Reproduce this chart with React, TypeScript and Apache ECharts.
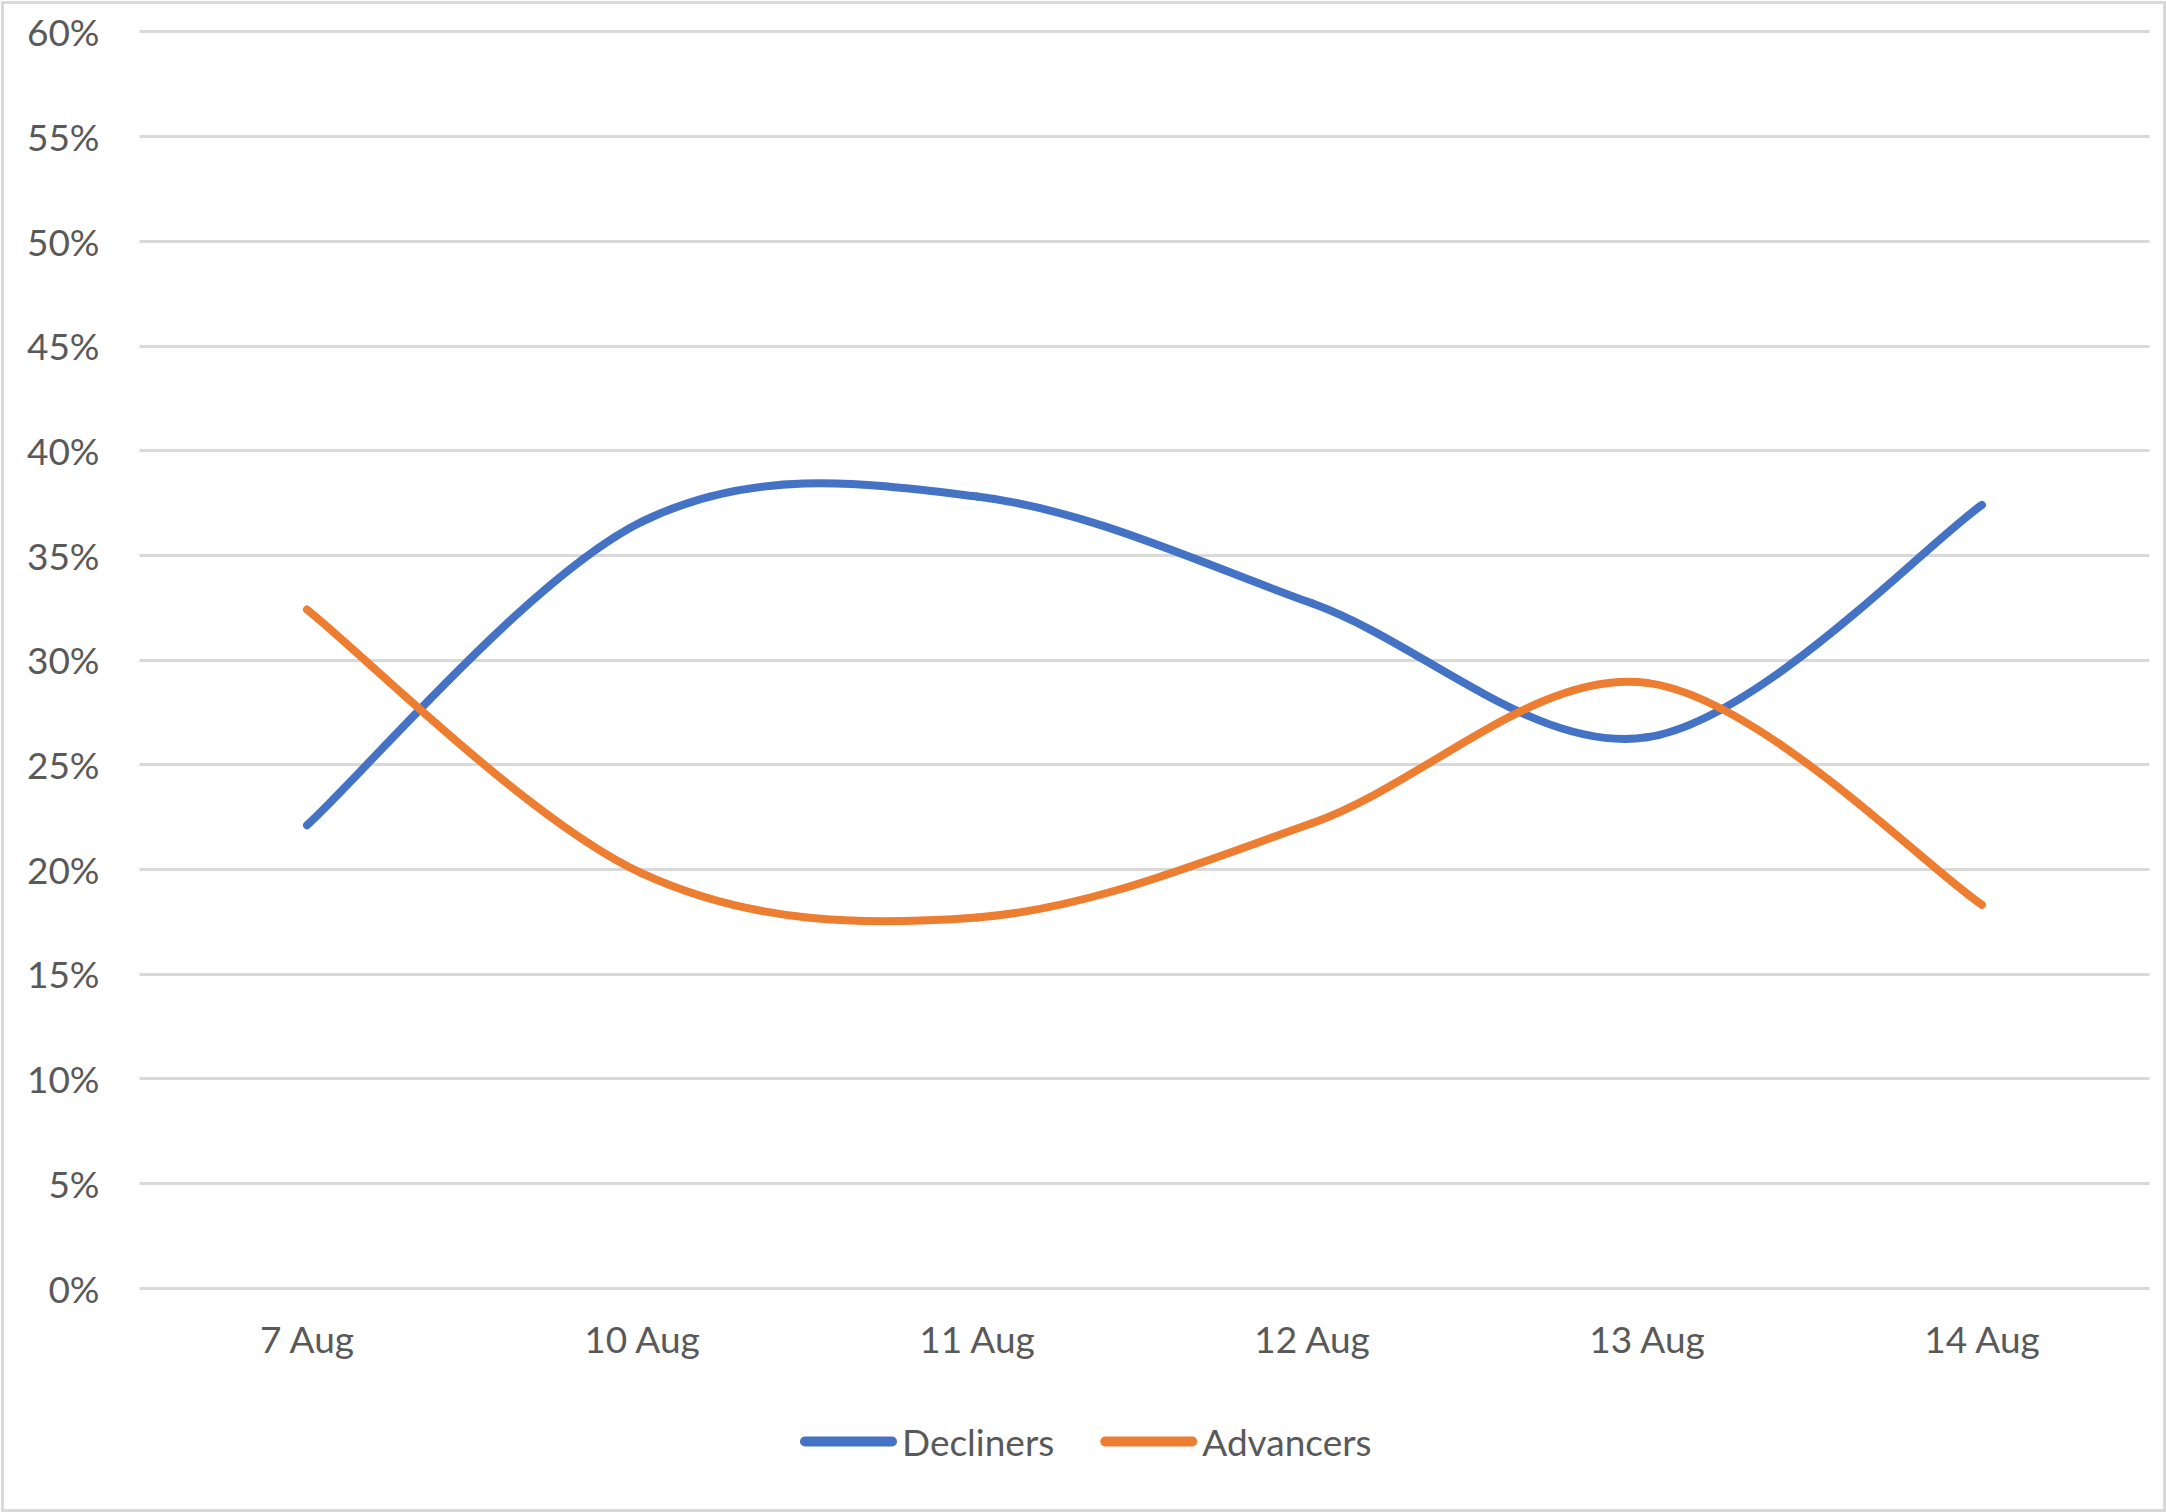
import React, { useEffect, useRef } from "react";
import * as echarts from "echarts";

const categories = ["7 Aug", "10 Aug", "11 Aug", "12 Aug", "13 Aug", "14 Aug"];
const decliners = [22.1, 36.6, 37.8, 32.7, 26.3, 37.4];
const advancers = [32.4, 19.8, 17.7, 22.2, 28.9, 18.3];
const seriesNames = ["Decliners", "Advancers"];
const seriesColors = ["#4472C4", "#ED7D31"];
const yMin = 0;
const yMax = 60;
const yStep = 5;

const FONT = "Lato, 'Noto Sans', sans-serif";
const TEXT = "#595959";
const GRID = "#D9D9D9";

function smoothSeries(name: string, values: number[], color: string) {
  const n = values.length;
  return {
    name,
    type: "custom",
    data: values.map((v, i) => [i, v]),
    encode: { x: 0, y: 1 },
    itemStyle: { color },
    renderItem: (params: any, api: any) => {
      const i = params.dataIndex;
      if (i >= n - 1) return null;
      const pt = (k: number) => {
        const kk = Math.max(0, Math.min(n - 1, k));
        return api.coord([kk, values[kk]]);
      };
      const p0 = pt(i - 1);
      const p1 = pt(i);
      const p2 = pt(i + 1);
      const p3 = pt(i + 2);
      const cp1x = p1[0] + (p2[0] - p0[0]) / 6;
      const cp1y = p1[1] + (p2[1] - p0[1]) / 6;
      const cp2x = p2[0] - (p3[0] - p1[0]) / 6;
      const cp2y = p2[1] - (p3[1] - p1[1]) / 6;
      return {
        type: "bezierCurve",
        shape: {
          x1: p1[0],
          y1: p1[1],
          x2: p2[0],
          y2: p2[1],
          cpx1: cp1x,
          cpy1: cp1y,
          cpx2: cp2x,
          cpy2: cp2y,
        },
        style: { stroke: color, fill: null, lineWidth: 8, lineCap: "round" },
        silent: true,
      };
    },
  };
}

export default function App() {
  const ref = useRef<HTMLDivElement>(null);
  useEffect(() => {
    if (!ref.current) return;
    const chart = echarts.init(ref.current, null, { renderer: "svg" });
    const legendIcon =
      "path://M5,0 L92,0 A5,5 0 0 1 92,10 L5,10 A5,5 0 0 1 5,0 Z";
    chart.setOption({
      animation: false,
      backgroundColor: "#FFFFFF",
      textStyle: { fontFamily: FONT },
      grid: {
        left: 139.5,
        right: 16.5,
        top: 31.7,
        bottom: 224,
        containLabel: false,
      },
      xAxis: {
        type: "category",
        data: categories,
        boundaryGap: true,
        axisLine: { show: false },
        axisTick: { show: false },
        axisLabel: {
          color: TEXT,
          fontSize: 37,
          fontFamily: FONT,
          margin: 32,
        },
      },
      yAxis: {
        type: "value",
        min: yMin,
        max: yMax,
        interval: yStep,
        axisLine: { show: false },
        axisTick: { show: false },
        axisLabel: {
          color: TEXT,
          fontSize: 37,
          fontFamily: FONT,
          margin: 40,
          padding: [0, 0, 5, 0],
          formatter: "{value}%",
        },
        splitLine: { show: true, lineStyle: { color: GRID, width: 3 } },
      },
      legend: {
        left: 795,
        top: 1418,
        itemWidth: 97,
        itemHeight: 10,
        itemGap: 46,
        icon: legendIcon,
        textStyle: { color: TEXT, fontSize: 37, fontFamily: FONT },
        data: seriesNames,
      },
      series: [
        smoothSeries(seriesNames[0], decliners, seriesColors[0]),
        smoothSeries(seriesNames[1], advancers, seriesColors[1]),
      ],
      graphic: [
        {
          type: "rect",
          left: 0,
          top: 0,
          shape: { x: 1.5, y: 1.5, width: 2162, height: 1508 },
          style: { fill: "none", stroke: GRID, lineWidth: 3 },
          silent: true,
          z: 100,
        },
      ],
    });
    return () => chart.dispose();
  }, []);
  return (
    <div
      ref={ref}
      style={{ position: "fixed", left: 0, top: 0, width: 2166, height: 1512 }}
    />
  );
}
